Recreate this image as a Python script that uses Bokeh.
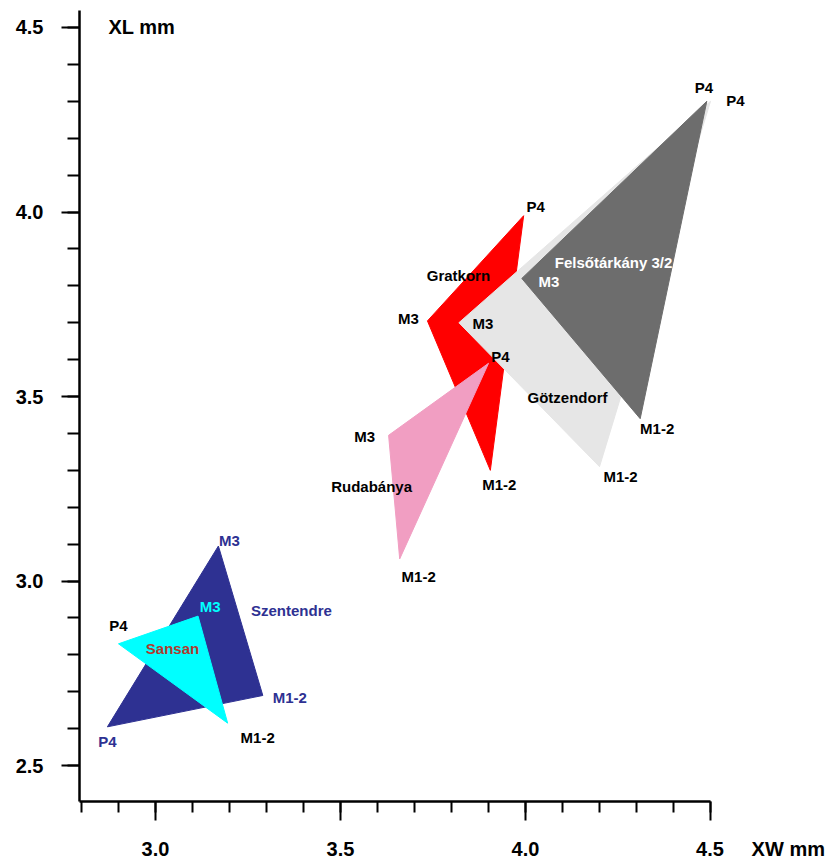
from bokeh.plotting import figure
from bokeh.models import ColumnDataSource, SingleIntervalTicker, Label, Range1d, NumeralTickFormatter
from bokeh.core.properties import value
from bokeh.embed import file_html
from bokeh.resources import INLINE

# ---- data (XW mm, XL mm), vertex order: P4, M3, M1-2 ----
tooth = ["P4", "M3", "M1-2"]

felso_xw = [4.49, 3.99, 4.31]
felso_xl = [4.30, 3.82, 3.44]

gotz_xw = [4.50, 3.82, 4.20]
gotz_xl = [4.30, 3.70, 3.31]

grat_xw = [3.995, 3.735, 3.905]
grat_xl = [3.99, 3.705, 3.30]

ruda_xw = [3.90, 3.63, 3.66]
ruda_xl = [3.59, 3.395, 3.06]

szent_xw = [2.87, 3.17, 3.29]
szent_xl = [2.605, 3.095, 2.69]

sansan_xw = [2.90, 3.115, 3.195]
sansan_xl = [2.83, 2.905, 2.615]

x_title = "XW mm"
y_title = "XL mm"

FONT = value("Liberation Sans")

p = figure(width=832, height=862,
           x_range=Range1d(2.7946, 4.8108), y_range=Range1d(2.4027, 4.546),
           output_backend="svg", toolbar_location=None,
           min_border_left=79, min_border_right=7, min_border_top=10, min_border_bottom=60)
p.outline_line_color = None
p.grid.visible = False
p.background_fill_color = "white"

# axes
xa = p.xaxis[0]
xa.ticker = SingleIntervalTicker(interval=0.5, num_minor_ticks=5)
xa.bounds = (2.7946, 4.5)
xa.formatter = NumeralTickFormatter(format="0.0")
# the x-axis title sits on the same row as the tick labels, right of "4.5"
NB = "\u00a0"
xa.major_label_overrides = {4.5: NB * 18 + "4.5" + NB * 5 + x_title}
ya = p.yaxis[0]
ya.ticker = SingleIntervalTicker(interval=0.5, num_minor_ticks=5)
ya.formatter = NumeralTickFormatter(format="0.0")
for ax in (xa, ya):
    ax.axis_line_color = "black"
    ax.axis_line_width = 2.5
    ax.major_tick_in = 0
    ax.minor_tick_in = 0
    ax.major_tick_line_color = "black"
    ax.minor_tick_line_color = "black"
    ax.major_tick_line_width = 2
    ax.minor_tick_line_width = 2
    ax.major_label_text_font = "Liberation Sans"
    ax.major_label_text_font_style = "bold"
    ax.major_label_text_font_size = "20px"
    ax.major_label_text_color = "black"
xa.major_tick_out = 19
xa.minor_tick_out = 11
xa.major_label_standoff = 17
ya.major_tick_out = 18
ya.minor_tick_out = 12
ya.major_label_standoff = 18

# patches (drawing order matters)
sites = [
    (szent_xw, szent_xl, "#2e3192"),
    (sansan_xw, sansan_xl, "#00ffff"),
    (grat_xw, grat_xl, "#ff0000"),
    (gotz_xw, gotz_xl, "#e6e6e6"),
    (felso_xw, felso_xl, "#6d6d6d"),
    (ruda_xw, ruda_xl, "#f19ec2"),
]
for xs, ys, col in sites:
    src = ColumnDataSource(dict(x=xs, y=ys))
    p.patch("x", "y", source=src, fill_color=col, line_color=col, line_width=1)

# vertex labels: (xs, ys, pixel offsets per vertex, colors per vertex)
vertex_labels = [
    (felso_xw, felso_xl, [(-3, -14), (27, 3), (17, 10)], ["black", "white", "black"]),
    (gotz_xw, gotz_xl, [(25, -1), (24, 1), (21, 10)], ["black", "black", "black"]),
    (grat_xw, grat_xl, [(12, -9), (-19, -2), (9, 14)], ["black", "black", "black"]),
    (ruda_xw, ruda_xl, [(12, -7), (-24, 1), (19, 18)], ["black", "black", "black"]),
    (szent_xw, szent_xl, [(0, 15), (11, -6), (27, 2)], ["#2e3192", "#2e3192", "#2e3192"]),
    (sansan_xw, sansan_xl, [(0, -18), (12, -10), (30, 14)], ["black", "#00ffff", "black"]),
]
for xs, ys, offs, cols in vertex_labels:
    src = ColumnDataSource(dict(x=xs, y=ys, t=tooth,
                                dx=[o[0] for o in offs], dy=[o[1] for o in offs], c=cols))
    p.text("x", "y", text="t", x_offset="dx", y_offset="dy", text_color="c", source=src,
           text_font=FONT, text_font_style="bold", text_font_size="15px",
           text_align="center", text_baseline="middle")

# site names anchored to a vertex: (name, xs, ys, vertex index, offset, color, align)
names = [
    ("Felsőtárkány 3/2", felso_xw, felso_xl, 1, (33, -16), "white", "left"),
    ("Götzendorf", gotz_xw, gotz_xl, 2, (-32, -69), "black", "center"),
    ("Gratkorn", grat_xw, grat_xl, 1, (31, -45), "black", "center"),
    ("Rudabánya", ruda_xw, ruda_xl, 1, (-17, 51), "black", "center"),
    ("Szentendre", szent_xw, szent_xl, 1, (73, 64), "#2e3192", "center"),
    ("Sansan", sansan_xw, sansan_xl, 0, (54, 5), "#b03a2e", "center"),
]
for nm, xs, ys, i, off, col, al in names:
    p.text(x=[xs[i]], y=[ys[i]], text=[nm], x_offset=off[0], y_offset=off[1],
           text_color=col, text_font=FONT, text_font_style="bold", text_font_size="15px",
           text_align=al, text_baseline="middle")

# y-axis title inside the frame, top left (screen units from the frame's lower-left corner)
p.add_layout(Label(x=29, y=775, x_units="screen", y_units="screen", text=y_title,
                   text_font="Liberation Sans", text_font_style="bold", text_font_size="20px",
                   text_color="black", text_align="left", text_baseline="middle"))

open("out.html", "w").write(file_html(p, INLINE))
